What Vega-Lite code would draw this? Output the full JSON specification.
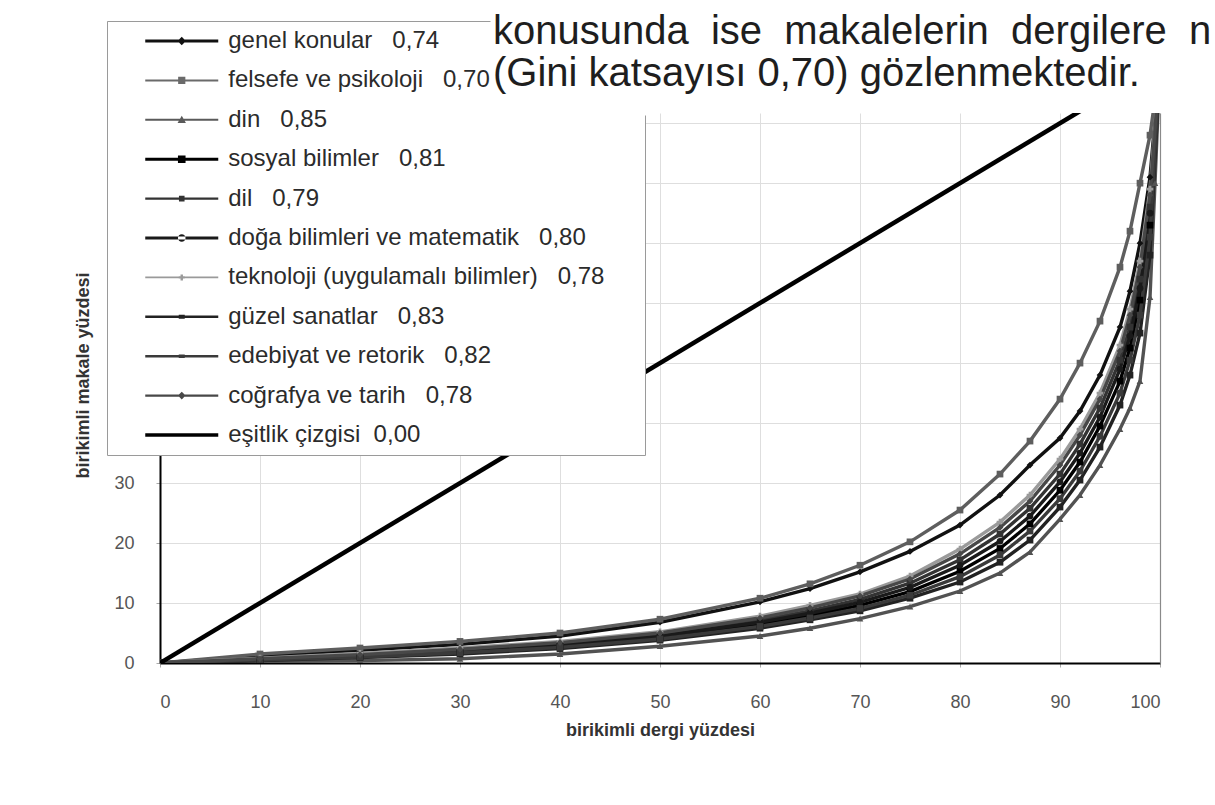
{
  "$schema": "https://vega.github.io/schema/vega-lite/v6.json",
  "width": 1000,
  "height": 550,
  "autosize": "none",
  "padding": {"left": 160, "top": 113, "right": 55, "bottom": 142},
  "background": "white",
  "title": {
    "text": ["konusunda\u00a0\u00a0ise\u00a0\u00a0makalelerin\u00a0\u00a0dergilere\u00a0\u00a0n", "(Gini katsayısı 0,70) gözlenmektedir."],
    "anchor": "start",
    "frame": "group",
    "orient": "top",
    "font": "Liberation Sans",
    "fontSize": 40,
    "fontWeight": "normal",
    "color": "#1e1e1e",
    "lineHeight": 42,
    "dx": 333,
    "dy": 73,
    "offset": 0
  },
  "data": {"values": [
    {"s":"genel konular\u00a0\u00a0\u00a00,74","x":0,"y":0},{"s":"genel konular\u00a0\u00a0\u00a00,74","x":10,"y":1.2},{"s":"genel konular\u00a0\u00a0\u00a00,74","x":20,"y":2.1},{"s":"genel konular\u00a0\u00a0\u00a00,74","x":30,"y":3.1},{"s":"genel konular\u00a0\u00a0\u00a00,74","x":40,"y":4.5},{"s":"genel konular\u00a0\u00a0\u00a00,74","x":50,"y":6.8},{"s":"genel konular\u00a0\u00a0\u00a00,74","x":60,"y":10.2},{"s":"genel konular\u00a0\u00a0\u00a00,74","x":65,"y":12.4},{"s":"genel konular\u00a0\u00a0\u00a00,74","x":70,"y":15.2},{"s":"genel konular\u00a0\u00a0\u00a00,74","x":75,"y":18.6},{"s":"genel konular\u00a0\u00a0\u00a00,74","x":80,"y":23},{"s":"genel konular\u00a0\u00a0\u00a00,74","x":84,"y":28},{"s":"genel konular\u00a0\u00a0\u00a00,74","x":87,"y":33},{"s":"genel konular\u00a0\u00a0\u00a00,74","x":90,"y":37.5},{"s":"genel konular\u00a0\u00a0\u00a00,74","x":92,"y":42},{"s":"genel konular\u00a0\u00a0\u00a00,74","x":94,"y":48},{"s":"genel konular\u00a0\u00a0\u00a00,74","x":96,"y":56},{"s":"genel konular\u00a0\u00a0\u00a00,74","x":97,"y":62},{"s":"genel konular\u00a0\u00a0\u00a00,74","x":98,"y":70},{"s":"genel konular\u00a0\u00a0\u00a00,74","x":99,"y":81},{"s":"genel konular\u00a0\u00a0\u00a00,74","x":100,"y":100},
    {"s":"felsefe ve psikoloji\u00a0\u00a0\u00a00,70","x":0,"y":0},{"s":"felsefe ve psikoloji\u00a0\u00a0\u00a00,70","x":10,"y":1.5},{"s":"felsefe ve psikoloji\u00a0\u00a0\u00a00,70","x":20,"y":2.5},{"s":"felsefe ve psikoloji\u00a0\u00a0\u00a00,70","x":30,"y":3.6},{"s":"felsefe ve psikoloji\u00a0\u00a0\u00a00,70","x":40,"y":5.0},{"s":"felsefe ve psikoloji\u00a0\u00a0\u00a00,70","x":50,"y":7.3},{"s":"felsefe ve psikoloji\u00a0\u00a0\u00a00,70","x":60,"y":10.8},{"s":"felsefe ve psikoloji\u00a0\u00a0\u00a00,70","x":65,"y":13.2},{"s":"felsefe ve psikoloji\u00a0\u00a0\u00a00,70","x":70,"y":16.3},{"s":"felsefe ve psikoloji\u00a0\u00a0\u00a00,70","x":75,"y":20.2},{"s":"felsefe ve psikoloji\u00a0\u00a0\u00a00,70","x":80,"y":25.5},{"s":"felsefe ve psikoloji\u00a0\u00a0\u00a00,70","x":84,"y":31.5},{"s":"felsefe ve psikoloji\u00a0\u00a0\u00a00,70","x":87,"y":37},{"s":"felsefe ve psikoloji\u00a0\u00a0\u00a00,70","x":90,"y":44},{"s":"felsefe ve psikoloji\u00a0\u00a0\u00a00,70","x":92,"y":50},{"s":"felsefe ve psikoloji\u00a0\u00a0\u00a00,70","x":94,"y":57},{"s":"felsefe ve psikoloji\u00a0\u00a0\u00a00,70","x":96,"y":66},{"s":"felsefe ve psikoloji\u00a0\u00a0\u00a00,70","x":97,"y":72},{"s":"felsefe ve psikoloji\u00a0\u00a0\u00a00,70","x":98,"y":80},{"s":"felsefe ve psikoloji\u00a0\u00a0\u00a00,70","x":99,"y":88},{"s":"felsefe ve psikoloji\u00a0\u00a0\u00a00,70","x":100,"y":100},
    {"s":"din\u00a0\u00a0\u00a00,85","x":0,"y":0},{"s":"din\u00a0\u00a0\u00a00,85","x":10,"y":0.2},{"s":"din\u00a0\u00a0\u00a00,85","x":20,"y":0.4},{"s":"din\u00a0\u00a0\u00a00,85","x":30,"y":0.7},{"s":"din\u00a0\u00a0\u00a00,85","x":40,"y":1.5},{"s":"din\u00a0\u00a0\u00a00,85","x":50,"y":2.8},{"s":"din\u00a0\u00a0\u00a00,85","x":60,"y":4.5},{"s":"din\u00a0\u00a0\u00a00,85","x":65,"y":5.8},{"s":"din\u00a0\u00a0\u00a00,85","x":70,"y":7.4},{"s":"din\u00a0\u00a0\u00a00,85","x":75,"y":9.4},{"s":"din\u00a0\u00a0\u00a00,85","x":80,"y":12.0},{"s":"din\u00a0\u00a0\u00a00,85","x":84,"y":15.0},{"s":"din\u00a0\u00a0\u00a00,85","x":87,"y":18.5},{"s":"din\u00a0\u00a0\u00a00,85","x":90,"y":24},{"s":"din\u00a0\u00a0\u00a00,85","x":92,"y":28},{"s":"din\u00a0\u00a0\u00a00,85","x":94,"y":33},{"s":"din\u00a0\u00a0\u00a00,85","x":96,"y":39},{"s":"din\u00a0\u00a0\u00a00,85","x":97,"y":42.5},{"s":"din\u00a0\u00a0\u00a00,85","x":98,"y":47},{"s":"din\u00a0\u00a0\u00a00,85","x":99,"y":61},{"s":"din\u00a0\u00a0\u00a00,85","x":99.5,"y":80},{"s":"din\u00a0\u00a0\u00a00,85","x":100,"y":100},
    {"s":"sosyal bilimler\u00a0\u00a0\u00a00,81","x":0,"y":0},{"s":"sosyal bilimler\u00a0\u00a0\u00a00,81","x":10,"y":0.5},{"s":"sosyal bilimler\u00a0\u00a0\u00a00,81","x":20,"y":1.1},{"s":"sosyal bilimler\u00a0\u00a0\u00a00,81","x":30,"y":1.8},{"s":"sosyal bilimler\u00a0\u00a0\u00a00,81","x":40,"y":2.8},{"s":"sosyal bilimler\u00a0\u00a0\u00a00,81","x":50,"y":4.2},{"s":"sosyal bilimler\u00a0\u00a0\u00a00,81","x":60,"y":6.4},{"s":"sosyal bilimler\u00a0\u00a0\u00a00,81","x":65,"y":7.9},{"s":"sosyal bilimler\u00a0\u00a0\u00a00,81","x":70,"y":9.6},{"s":"sosyal bilimler\u00a0\u00a0\u00a00,81","x":75,"y":11.9},{"s":"sosyal bilimler\u00a0\u00a0\u00a00,81","x":80,"y":15.3},{"s":"sosyal bilimler\u00a0\u00a0\u00a00,81","x":84,"y":19.1},{"s":"sosyal bilimler\u00a0\u00a0\u00a00,81","x":87,"y":23.2},{"s":"sosyal bilimler\u00a0\u00a0\u00a00,81","x":90,"y":28.8},{"s":"sosyal bilimler\u00a0\u00a0\u00a00,81","x":92,"y":33.5},{"s":"sosyal bilimler\u00a0\u00a0\u00a00,81","x":94,"y":39.5},{"s":"sosyal bilimler\u00a0\u00a0\u00a00,81","x":96,"y":47},{"s":"sosyal bilimler\u00a0\u00a0\u00a00,81","x":97,"y":52.5},{"s":"sosyal bilimler\u00a0\u00a0\u00a00,81","x":98,"y":60.5},{"s":"sosyal bilimler\u00a0\u00a0\u00a00,81","x":99,"y":73},{"s":"sosyal bilimler\u00a0\u00a0\u00a00,81","x":100,"y":100},
    {"s":"dil\u00a0\u00a0\u00a00,79","x":0,"y":0},{"s":"dil\u00a0\u00a0\u00a00,79","x":10,"y":0.6},{"s":"dil\u00a0\u00a0\u00a00,79","x":20,"y":1.3},{"s":"dil\u00a0\u00a0\u00a00,79","x":30,"y":2.1},{"s":"dil\u00a0\u00a0\u00a00,79","x":40,"y":3.2},{"s":"dil\u00a0\u00a0\u00a00,79","x":50,"y":4.7},{"s":"dil\u00a0\u00a0\u00a00,79","x":60,"y":7.1},{"s":"dil\u00a0\u00a0\u00a00,79","x":65,"y":8.7},{"s":"dil\u00a0\u00a0\u00a00,79","x":70,"y":10.6},{"s":"dil\u00a0\u00a0\u00a00,79","x":75,"y":13.3},{"s":"dil\u00a0\u00a0\u00a00,79","x":80,"y":17.2},{"s":"dil\u00a0\u00a0\u00a00,79","x":84,"y":21.5},{"s":"dil\u00a0\u00a0\u00a00,79","x":87,"y":25.8},{"s":"dil\u00a0\u00a0\u00a00,79","x":90,"y":31.5},{"s":"dil\u00a0\u00a0\u00a00,79","x":92,"y":36.5},{"s":"dil\u00a0\u00a0\u00a00,79","x":94,"y":42.5},{"s":"dil\u00a0\u00a0\u00a00,79","x":96,"y":50.5},{"s":"dil\u00a0\u00a0\u00a00,79","x":97,"y":56},{"s":"dil\u00a0\u00a0\u00a00,79","x":98,"y":64},{"s":"dil\u00a0\u00a0\u00a00,79","x":99,"y":76},{"s":"dil\u00a0\u00a0\u00a00,79","x":100,"y":100},
    {"s":"doğa bilimleri ve matematik\u00a0\u00a0\u00a00,80","x":0,"y":0},{"s":"doğa bilimleri ve matematik\u00a0\u00a0\u00a00,80","x":10,"y":0.6},{"s":"doğa bilimleri ve matematik\u00a0\u00a0\u00a00,80","x":20,"y":1.2},{"s":"doğa bilimleri ve matematik\u00a0\u00a0\u00a00,80","x":30,"y":2.0},{"s":"doğa bilimleri ve matematik\u00a0\u00a0\u00a00,80","x":40,"y":3.0},{"s":"doğa bilimleri ve matematik\u00a0\u00a0\u00a00,80","x":50,"y":4.5},{"s":"doğa bilimleri ve matematik\u00a0\u00a0\u00a00,80","x":60,"y":6.8},{"s":"doğa bilimleri ve matematik\u00a0\u00a0\u00a00,80","x":65,"y":8.3},{"s":"doğa bilimleri ve matematik\u00a0\u00a0\u00a00,80","x":70,"y":10.1},{"s":"doğa bilimleri ve matematik\u00a0\u00a0\u00a00,80","x":75,"y":12.6},{"s":"doğa bilimleri ve matematik\u00a0\u00a0\u00a00,80","x":80,"y":16.3},{"s":"doğa bilimleri ve matematik\u00a0\u00a0\u00a00,80","x":84,"y":20.3},{"s":"doğa bilimleri ve matematik\u00a0\u00a0\u00a00,80","x":87,"y":24.5},{"s":"doğa bilimleri ve matematik\u00a0\u00a0\u00a00,80","x":90,"y":30.2},{"s":"doğa bilimleri ve matematik\u00a0\u00a0\u00a00,80","x":92,"y":35},{"s":"doğa bilimleri ve matematik\u00a0\u00a0\u00a00,80","x":94,"y":41},{"s":"doğa bilimleri ve matematik\u00a0\u00a0\u00a00,80","x":96,"y":49},{"s":"doğa bilimleri ve matematik\u00a0\u00a0\u00a00,80","x":97,"y":54.5},{"s":"doğa bilimleri ve matematik\u00a0\u00a0\u00a00,80","x":98,"y":62.5},{"s":"doğa bilimleri ve matematik\u00a0\u00a0\u00a00,80","x":99,"y":75},{"s":"doğa bilimleri ve matematik\u00a0\u00a0\u00a00,80","x":100,"y":100},
    {"s":"teknoloji (uygulamalı bilimler)\u00a0\u00a0\u00a00,78","x":0,"y":0},{"s":"teknoloji (uygulamalı bilimler)\u00a0\u00a0\u00a00,78","x":10,"y":0.8},{"s":"teknoloji (uygulamalı bilimler)\u00a0\u00a0\u00a00,78","x":20,"y":1.6},{"s":"teknoloji (uygulamalı bilimler)\u00a0\u00a0\u00a00,78","x":30,"y":2.5},{"s":"teknoloji (uygulamalı bilimler)\u00a0\u00a0\u00a00,78","x":40,"y":3.6},{"s":"teknoloji (uygulamalı bilimler)\u00a0\u00a0\u00a00,78","x":50,"y":5.2},{"s":"teknoloji (uygulamalı bilimler)\u00a0\u00a0\u00a00,78","x":60,"y":7.8},{"s":"teknoloji (uygulamalı bilimler)\u00a0\u00a0\u00a00,78","x":65,"y":9.6},{"s":"teknoloji (uygulamalı bilimler)\u00a0\u00a0\u00a00,78","x":70,"y":11.5},{"s":"teknoloji (uygulamalı bilimler)\u00a0\u00a0\u00a00,78","x":75,"y":14.5},{"s":"teknoloji (uygulamalı bilimler)\u00a0\u00a0\u00a00,78","x":80,"y":19},{"s":"teknoloji (uygulamalı bilimler)\u00a0\u00a0\u00a00,78","x":84,"y":23.5},{"s":"teknoloji (uygulamalı bilimler)\u00a0\u00a0\u00a00,78","x":87,"y":28},{"s":"teknoloji (uygulamalı bilimler)\u00a0\u00a0\u00a00,78","x":90,"y":34},{"s":"teknoloji (uygulamalı bilimler)\u00a0\u00a0\u00a00,78","x":92,"y":39},{"s":"teknoloji (uygulamalı bilimler)\u00a0\u00a0\u00a00,78","x":94,"y":45},{"s":"teknoloji (uygulamalı bilimler)\u00a0\u00a0\u00a00,78","x":96,"y":53},{"s":"teknoloji (uygulamalı bilimler)\u00a0\u00a0\u00a00,78","x":97,"y":59},{"s":"teknoloji (uygulamalı bilimler)\u00a0\u00a0\u00a00,78","x":98,"y":67},{"s":"teknoloji (uygulamalı bilimler)\u00a0\u00a0\u00a00,78","x":99,"y":79},{"s":"teknoloji (uygulamalı bilimler)\u00a0\u00a0\u00a00,78","x":100,"y":100},
    {"s":"güzel sanatlar\u00a0\u00a0\u00a00,83","x":0,"y":0},{"s":"güzel sanatlar\u00a0\u00a0\u00a00,83","x":10,"y":0.4},{"s":"güzel sanatlar\u00a0\u00a0\u00a00,83","x":20,"y":0.9},{"s":"güzel sanatlar\u00a0\u00a0\u00a00,83","x":30,"y":1.5},{"s":"güzel sanatlar\u00a0\u00a0\u00a00,83","x":40,"y":2.4},{"s":"güzel sanatlar\u00a0\u00a0\u00a00,83","x":50,"y":3.8},{"s":"güzel sanatlar\u00a0\u00a0\u00a00,83","x":60,"y":5.8},{"s":"güzel sanatlar\u00a0\u00a0\u00a00,83","x":65,"y":7.2},{"s":"güzel sanatlar\u00a0\u00a0\u00a00,83","x":70,"y":8.7},{"s":"güzel sanatlar\u00a0\u00a0\u00a00,83","x":75,"y":10.8},{"s":"güzel sanatlar\u00a0\u00a0\u00a00,83","x":80,"y":13.5},{"s":"güzel sanatlar\u00a0\u00a0\u00a00,83","x":84,"y":16.8},{"s":"güzel sanatlar\u00a0\u00a0\u00a00,83","x":87,"y":20.5},{"s":"güzel sanatlar\u00a0\u00a0\u00a00,83","x":90,"y":26},{"s":"güzel sanatlar\u00a0\u00a0\u00a00,83","x":92,"y":30.5},{"s":"güzel sanatlar\u00a0\u00a0\u00a00,83","x":94,"y":36},{"s":"güzel sanatlar\u00a0\u00a0\u00a00,83","x":96,"y":43},{"s":"güzel sanatlar\u00a0\u00a0\u00a00,83","x":97,"y":48},{"s":"güzel sanatlar\u00a0\u00a0\u00a00,83","x":98,"y":55},{"s":"güzel sanatlar\u00a0\u00a0\u00a00,83","x":99,"y":68},{"s":"güzel sanatlar\u00a0\u00a0\u00a00,83","x":100,"y":100},
    {"s":"edebiyat ve retorik\u00a0\u00a0\u00a00,82","x":0,"y":0},{"s":"edebiyat ve retorik\u00a0\u00a0\u00a00,82","x":10,"y":0.5},{"s":"edebiyat ve retorik\u00a0\u00a0\u00a00,82","x":20,"y":1.0},{"s":"edebiyat ve retorik\u00a0\u00a0\u00a00,82","x":30,"y":1.7},{"s":"edebiyat ve retorik\u00a0\u00a0\u00a00,82","x":40,"y":2.6},{"s":"edebiyat ve retorik\u00a0\u00a0\u00a00,82","x":50,"y":4.0},{"s":"edebiyat ve retorik\u00a0\u00a0\u00a00,82","x":60,"y":6.1},{"s":"edebiyat ve retorik\u00a0\u00a0\u00a00,82","x":65,"y":7.5},{"s":"edebiyat ve retorik\u00a0\u00a0\u00a00,82","x":70,"y":9.1},{"s":"edebiyat ve retorik\u00a0\u00a0\u00a00,82","x":75,"y":11.3},{"s":"edebiyat ve retorik\u00a0\u00a0\u00a00,82","x":80,"y":14.4},{"s":"edebiyat ve retorik\u00a0\u00a0\u00a00,82","x":84,"y":18},{"s":"edebiyat ve retorik\u00a0\u00a0\u00a00,82","x":87,"y":22},{"s":"edebiyat ve retorik\u00a0\u00a0\u00a00,82","x":90,"y":27.4},{"s":"edebiyat ve retorik\u00a0\u00a0\u00a00,82","x":92,"y":32},{"s":"edebiyat ve retorik\u00a0\u00a0\u00a00,82","x":94,"y":37.8},{"s":"edebiyat ve retorik\u00a0\u00a0\u00a00,82","x":96,"y":45},{"s":"edebiyat ve retorik\u00a0\u00a0\u00a00,82","x":97,"y":50.5},{"s":"edebiyat ve retorik\u00a0\u00a0\u00a00,82","x":98,"y":58},{"s":"edebiyat ve retorik\u00a0\u00a0\u00a00,82","x":99,"y":71},{"s":"edebiyat ve retorik\u00a0\u00a0\u00a00,82","x":100,"y":100},
    {"s":"coğrafya ve tarih\u00a0\u00a0\u00a00,78","x":0,"y":0},{"s":"coğrafya ve tarih\u00a0\u00a0\u00a00,78","x":10,"y":0.7},{"s":"coğrafya ve tarih\u00a0\u00a0\u00a00,78","x":20,"y":1.4},{"s":"coğrafya ve tarih\u00a0\u00a0\u00a00,78","x":30,"y":2.3},{"s":"coğrafya ve tarih\u00a0\u00a0\u00a00,78","x":40,"y":3.4},{"s":"coğrafya ve tarih\u00a0\u00a0\u00a00,78","x":50,"y":5.0},{"s":"coğrafya ve tarih\u00a0\u00a0\u00a00,78","x":60,"y":7.5},{"s":"coğrafya ve tarih\u00a0\u00a0\u00a00,78","x":65,"y":9.2},{"s":"coğrafya ve tarih\u00a0\u00a0\u00a00,78","x":70,"y":11.2},{"s":"coğrafya ve tarih\u00a0\u00a0\u00a00,78","x":75,"y":14.0},{"s":"coğrafya ve tarih\u00a0\u00a0\u00a00,78","x":80,"y":18.2},{"s":"coğrafya ve tarih\u00a0\u00a0\u00a00,78","x":84,"y":22.6},{"s":"coğrafya ve tarih\u00a0\u00a0\u00a00,78","x":87,"y":27},{"s":"coğrafya ve tarih\u00a0\u00a0\u00a00,78","x":90,"y":33},{"s":"coğrafya ve tarih\u00a0\u00a0\u00a00,78","x":92,"y":38},{"s":"coğrafya ve tarih\u00a0\u00a0\u00a00,78","x":94,"y":44},{"s":"coğrafya ve tarih\u00a0\u00a0\u00a00,78","x":96,"y":52},{"s":"coğrafya ve tarih\u00a0\u00a0\u00a00,78","x":97,"y":58},{"s":"coğrafya ve tarih\u00a0\u00a0\u00a00,78","x":98,"y":66},{"s":"coğrafya ve tarih\u00a0\u00a0\u00a00,78","x":99,"y":78},{"s":"coğrafya ve tarih\u00a0\u00a0\u00a00,78","x":100,"y":100},
    {"s":"eşitlik çizgisi\u00a0\u00a00,00","x":0,"y":0},{"s":"eşitlik çizgisi\u00a0\u00a00,00","x":100,"y":100}
  ]},
  "encoding": {
    "x": {
      "field": "x", "type": "quantitative",
      "scale": {"domain": [0, 100], "nice": false},
      "axis": {
        "values": [0, 10, 20, 30, 40, 50, 60, 70, 80, 90, 100],
        "title": "birikimli dergi yüzdesi",
        "titleFont": "Liberation Sans", "titleFontSize": 18, "titleFontWeight": "bold", "titleColor": "#333333", "titlePadding": 10,
        "labelFont": "Liberation Sans", "labelFontSize": 18, "labelColor": "#555555", "labelPadding": 26,
        "domainColor": "#000000", "domainWidth": 2,
        "tickColor": "#aaaaaa", "tickSize": 4,
        "grid": true, "gridColor": "#dedede", "gridWidth": 1
      }
    }
  },
  "layer": [
    {
      "transform": [{"filter": "datum.s != 'eşitlik çizgisi\u00a0\u00a00,00'"}],
      "mark": {"type": "line", "strokeWidth": 3.4, "clip": true},
      "encoding": {
        "y": {
          "field": "y", "type": "quantitative",
          "scale": {"domain": [0, 91.7], "nice": false},
          "axis": {
            "orient": "left",
            "values": [0, 10, 20, 30, 40, 50, 60, 70, 80, 90],
            "title": "birikimli makale yüzdesi",
            "titleFont": "Liberation Sans", "titleFontSize": 18, "titleFontWeight": "bold", "titleColor": "#333333",
            "titleAngle": 270, "titleX": -77, "titleY": 262, "titleAlign": "center", "titleBaseline": "middle",
            "labelFont": "Liberation Sans", "labelFontSize": 18, "labelColor": "#555555", "labelPadding": 22,
            "domainColor": "#000000", "domainWidth": 2,
            "tickColor": "#aaaaaa", "tickSize": 4,
            "grid": true, "gridColor": "#dedede", "gridWidth": 1
          }
        },
        "color": {
          "field": "s", "type": "nominal", "legend": null,
          "scale": {
            "domain": ["genel konular\u00a0\u00a0\u00a00,74", "felsefe ve psikoloji\u00a0\u00a0\u00a00,70", "din\u00a0\u00a0\u00a00,85", "sosyal bilimler\u00a0\u00a0\u00a00,81", "dil\u00a0\u00a0\u00a00,79", "doğa bilimleri ve matematik\u00a0\u00a0\u00a00,80", "teknoloji (uygulamalı bilimler)\u00a0\u00a0\u00a00,78", "güzel sanatlar\u00a0\u00a0\u00a00,83", "edebiyat ve retorik\u00a0\u00a0\u00a00,82", "coğrafya ve tarih\u00a0\u00a0\u00a00,78", "eşitlik çizgisi\u00a0\u00a00,00"],
            "range": ["#111111", "#5e5e5e", "#525252", "#000000", "#333333", "#1a1a1a", "#9a9a9a", "#222222", "#3a3a3a", "#484848", "#000000"]
          }
        }
      }
    },
    {
      "transform": [{"filter": "datum.s != 'eşitlik çizgisi\u00a0\u00a00,00'"}],
      "mark": {"type": "point", "filled": true, "size": 45, "opacity": 1, "clip": true},
      "encoding": {
        "y": {"field": "y", "type": "quantitative", "scale": {"domain": [0, 91.7], "nice": false}, "axis": null},
        "color": {
          "field": "s", "type": "nominal", "legend": null,
          "scale": {
            "domain": ["genel konular\u00a0\u00a0\u00a00,74", "felsefe ve psikoloji\u00a0\u00a0\u00a00,70", "din\u00a0\u00a0\u00a00,85", "sosyal bilimler\u00a0\u00a0\u00a00,81", "dil\u00a0\u00a0\u00a00,79", "doğa bilimleri ve matematik\u00a0\u00a0\u00a00,80", "teknoloji (uygulamalı bilimler)\u00a0\u00a0\u00a00,78", "güzel sanatlar\u00a0\u00a0\u00a00,83", "edebiyat ve retorik\u00a0\u00a0\u00a00,82", "coğrafya ve tarih\u00a0\u00a0\u00a00,78", "eşitlik çizgisi\u00a0\u00a00,00"],
            "range": ["#111111", "#5e5e5e", "#525252", "#000000", "#333333", "#1a1a1a", "#9a9a9a", "#222222", "#3a3a3a", "#484848", "#000000"]
          }
        },
        "shape": {
          "field": "s", "type": "nominal", "legend": null,
          "scale": {
            "domain": ["genel konular\u00a0\u00a0\u00a00,74", "felsefe ve psikoloji\u00a0\u00a0\u00a00,70", "din\u00a0\u00a0\u00a00,85", "sosyal bilimler\u00a0\u00a0\u00a00,81", "dil\u00a0\u00a0\u00a00,79", "doğa bilimleri ve matematik\u00a0\u00a0\u00a00,80", "teknoloji (uygulamalı bilimler)\u00a0\u00a0\u00a00,78", "güzel sanatlar\u00a0\u00a0\u00a00,83", "edebiyat ve retorik\u00a0\u00a0\u00a00,82", "coğrafya ve tarih\u00a0\u00a0\u00a00,78", "eşitlik çizgisi\u00a0\u00a00,00"],
            "range": ["diamond", "square", "triangle-up", "square", "square", "circle", "cross", "square", "square", "diamond", "circle"]
          }
        }
      }
    },
    {
      "transform": [{"filter": "datum.s == 'eşitlik çizgisi\u00a0\u00a00,00'"}],
      "mark": {"type": "line", "strokeWidth": 4.5, "color": "#000000", "clip": true},
      "encoding": {
        "y": {
          "field": "y", "type": "quantitative", "scale": {"domain": [0, 91.7], "nice": false},
          "axis": {"orient": "right", "domain": true, "domainColor": "#8a8a8a", "domainWidth": 1.2, "ticks": false, "labels": false, "grid": false, "title": null}
        }
      }
    },
    {
      "mark": {"type": "point", "filled": true, "opacity": 0},
      "encoding": {
        "y": {"field": "y", "type": "quantitative", "scale": {"domain": [0, 91.7], "nice": false}, "axis": null},
        "color": {
          "field": "s", "type": "nominal",
          "scale": {
            "domain": ["genel konular\u00a0\u00a0\u00a00,74", "felsefe ve psikoloji\u00a0\u00a0\u00a00,70", "din\u00a0\u00a0\u00a00,85", "sosyal bilimler\u00a0\u00a0\u00a00,81", "dil\u00a0\u00a0\u00a00,79", "doğa bilimleri ve matematik\u00a0\u00a0\u00a00,80", "teknoloji (uygulamalı bilimler)\u00a0\u00a0\u00a00,78", "güzel sanatlar\u00a0\u00a0\u00a00,83", "edebiyat ve retorik\u00a0\u00a0\u00a00,82", "coğrafya ve tarih\u00a0\u00a0\u00a00,78", "eşitlik çizgisi\u00a0\u00a00,00"],
            "range": ["#111111", "#6a6a6a", "#5a5a5a", "#000000", "#333333", "#1a1a1a", "#9a9a9a", "#222222", "#3a3a3a", "#484848", "#000000"]
          },
          "legend": {
            "title": "\u00a0", "titleOrient": "right", "titlePadding": 33, "titleFontSize": 10,
            "orient": "none", "legendX": -53, "legendY": -92,
            "fillColor": "#ffffff", "strokeColor": "#9a9a9a", "padding": 8,
            "rowPadding": 15.4, "symbolSize": 400, "symbolOffset": 54.75, "labelOffset": 34.5,
            "symbolOpacity": 1, "symbolStrokeWidth": 0, "labelFont": "Liberation Sans", "labelFontSize": 24,
            "labelColor": "#2b2b2b", "labelLimit": 0,
            "encode": {"legend": {"update": {"strokeDash": {"value": [383, 249, 3000, 0]}}}}
          }
        },
        "shape": {
          "field": "s", "type": "nominal",
          "scale": {
            "domain": ["genel konular\u00a0\u00a0\u00a00,74", "felsefe ve psikoloji\u00a0\u00a0\u00a00,70", "din\u00a0\u00a0\u00a00,85", "sosyal bilimler\u00a0\u00a0\u00a00,81", "dil\u00a0\u00a0\u00a00,79", "doğa bilimleri ve matematik\u00a0\u00a0\u00a00,80", "teknoloji (uygulamalı bilimler)\u00a0\u00a0\u00a00,78", "güzel sanatlar\u00a0\u00a0\u00a00,83", "edebiyat ve retorik\u00a0\u00a0\u00a00,82", "coğrafya ve tarih\u00a0\u00a0\u00a00,78", "eşitlik çizgisi\u00a0\u00a00,00"],
            "range": [
              "M-3.65,-0.14H3.65V0.14H-3.65ZM0,-0.42L0.42,0L0,0.42L-0.42,0Z",
              "M-3.65,-0.1H3.65V0.1H-3.65ZM-0.36,-0.36H0.36V0.36H-0.36Z",
              "M-3.65,-0.1H3.65V0.1H-3.65ZM0,-0.4L0.42,0.32H-0.42Z",
              "M-3.65,-0.15H3.65V0.15H-3.65ZM-0.38,-0.38H0.38V0.38H-0.38Z",
              "M-3.65,-0.12H3.65V0.12H-3.65ZM-0.28,-0.28H0.28V0.28H-0.28Z",
              "M-3.65,-0.15H3.65V0.15H-3.65ZM-0.38,0A0.38,0.38,0,1,0,0.38,0A0.38,0.38,0,1,0,-0.38,0Z",
              "M-3.65,-0.08H3.65V0.08H-3.65ZM-0.3,-0.12H0.3V0.12H-0.3ZM-0.12,-0.3H0.12V0.3H-0.12Z",
              "M-3.65,-0.13H3.65V0.13H-3.65ZM-0.3,-0.2H0.3V0.2H-0.3Z",
              "M-3.65,-0.12H3.65V0.12H-3.65ZM-0.3,-0.18H0.3V0.18H-0.3Z",
              "M-3.65,-0.11H3.65V0.11H-3.65ZM0,-0.38L0.38,0L0,0.38L-0.38,0Z",
              "M-3.65,-0.17H3.65V0.17H-3.65Z"
            ]
          },
          "legend": {
            "title": "\u00a0", "titleOrient": "right", "titlePadding": 33, "titleFontSize": 10,
            "orient": "none", "legendX": -53, "legendY": -92,
            "fillColor": "#ffffff", "strokeColor": "#9a9a9a", "padding": 8,
            "rowPadding": 15.4, "symbolSize": 400, "symbolOffset": 54.75, "labelOffset": 34.5,
            "symbolOpacity": 1, "symbolStrokeWidth": 0, "labelFont": "Liberation Sans", "labelFontSize": 24,
            "labelColor": "#2b2b2b", "labelLimit": 0,
            "encode": {"legend": {"update": {"strokeDash": {"value": [383, 249, 3000, 0]}}}}
          }
        }
      }
    }
  ],
  "resolve": {
    "scale": {"color": "independent", "shape": "independent"},
    "axis": {"y": "independent"}
  },
  "config": {
    "view": {"stroke": null},
    "font": "Liberation Sans"
  }
}
